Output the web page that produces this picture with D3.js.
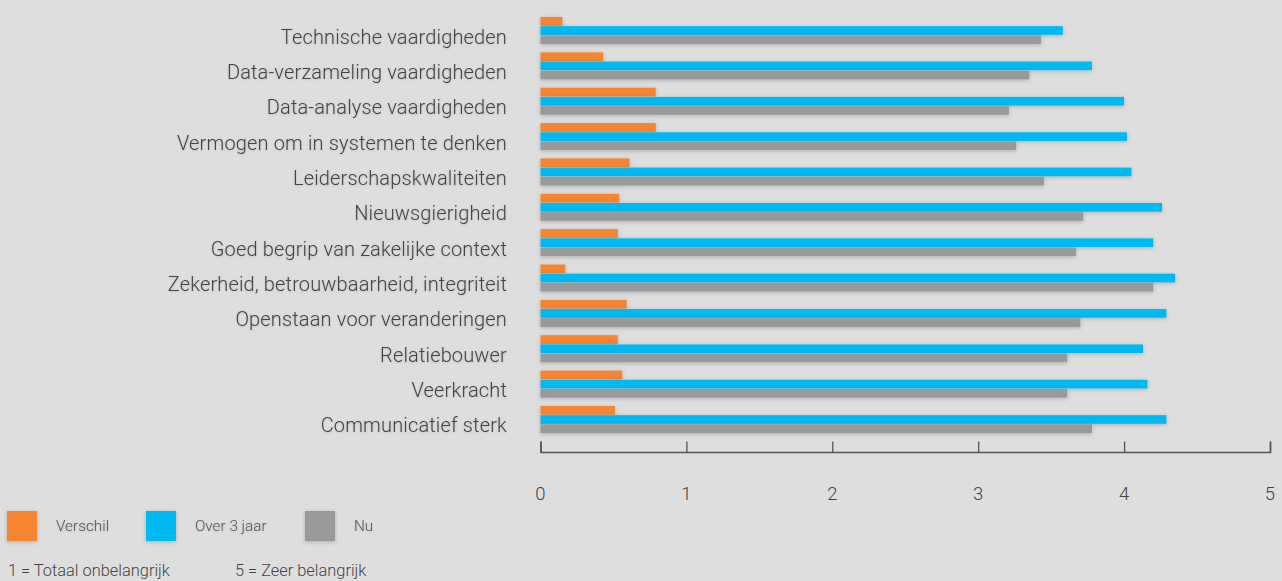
<!DOCTYPE html>
<html>
<head>
<meta charset="utf-8">
<script src="https://cdn.jsdelivr.net/npm/d3@7"></script>
<style>
  html, body { margin: 0; padding: 0; background: #dedede; }
  svg { display: block; }
  text { font-family: Roboto, "Open Sans", sans-serif; font-weight: 300; }
</style>
</head>
<body>
<svg id="chart" width="1282" height="581"></svg>
<script>
const categories = [
  "Technische vaardigheden",
  "Data-verzameling vaardigheden",
  "Data-analyse vaardigheden",
  "Vermogen om in systemen te denken",
  "Leiderschapskwaliteiten",
  "Nieuwsgierigheid",
  "Goed begrip van zakelijke context",
  "Zekerheid, betrouwbaarheid, integriteit",
  "Openstaan voor veranderingen",
  "Relatiebouwer",
  "Veerkracht",
  "Communicatief sterk"
];
const seriesNames = ["Verschil", "Over 3 jaar", "Nu"];
const verschil  = [0.15, 0.43, 0.79, 0.79, 0.61, 0.54, 0.53, 0.17, 0.59, 0.53, 0.56, 0.51];
const over3jaar = [3.58, 3.78, 4.00, 4.02, 4.05, 4.26, 4.20, 4.35, 4.29, 4.13, 4.16, 4.29];
const nu        = [3.43, 3.35, 3.21, 3.26, 3.45, 3.72, 3.67, 4.20, 3.70, 3.61, 3.61, 3.78];
const xTicks = [0, 1, 2, 3, 4, 5];
const colors = ["#f68533", "#00b9f1", "#98999b"];
const footnotes = ["1 = Totaal onbelangrijk", "5 = Zeer belangrijk"];

const seriesValues = [verschil, over3jaar, nu];

const svg = d3.select("#chart");

const defs = svg.append("defs");
const f = defs.append("filter").attr("id", "shadow")
  .attr("x", "-10%").attr("y", "-60%").attr("width", "120%").attr("height", "220%");
f.append("feDropShadow").attr("dx", 0).attr("dy", 1).attr("stdDeviation", 2)
  .attr("flood-color", "#000").attr("flood-opacity", 0.22);
const ft = defs.append("filter").attr("id", "tshadow")
  .attr("x", "-5%").attr("y", "-30%").attr("width", "110%").attr("height", "160%");
ft.append("feDropShadow").attr("dx", 0).attr("dy", 0.5).attr("stdDeviation", 1.2)
  .attr("flood-color", "#000").attr("flood-opacity", 0.18);

const x = d3.scaleLinear().domain([0, 5]).range([540.5, 1270]);

const step = 35.36, pad = 0.236;
const r0 = 17 - step * pad / 2;
const y = d3.scaleBand().domain(categories)
  .range([r0, r0 + categories.length * step])
  .paddingInner(pad).paddingOuter(pad / 2);
const ySub = d3.scaleBand().domain(seriesNames).range([0, y.bandwidth()]).padding(0.06).paddingOuter(0);

const data = categories.map((c, i) => ({
  cat: c,
  vals: seriesNames.map((s, j) => ({ s, v: seriesValues[j][i], c: colors[j] }))
}));

const groups = svg.append("g").selectAll("g").data(data).join("g")
  .attr("transform", d => `translate(0,${y(d.cat)})`);

groups.selectAll("rect").data(d => d.vals).join("rect")
  .attr("x", x(0))
  .attr("y", d => ySub(d.s))
  .attr("width", d => x(d.v) - x(0))
  .attr("height", ySub.bandwidth())
  .attr("fill", d => d.c)
  .attr("filter", "url(#shadow)");

svg.append("g").selectAll("text").data(categories).join("text")
  .attr("x", 507)
  .attr("y", d => y(d) + y.bandwidth() - 0.5)
  .attr("text-anchor", "end")
  .attr("font-size", 20)
  .attr("letter-spacing", 0.15)
  .attr("fill", "#444")
  .attr("filter", "url(#tshadow)")
  .text(d => d);

// axis
const axisY = 452;
const axis = d3.axisTop(x).tickValues(xTicks).tickSize(10.5).tickSizeOuter(10.5).tickFormat("");
const ag = svg.append("g").attr("transform", `translate(0,${axisY})`).call(axis);
ag.select(".domain").attr("stroke", "#555").attr("stroke-width", 1.6);
ag.selectAll(".tick line").attr("stroke", "#555").attr("stroke-width", 1.3);

svg.append("g").selectAll("text").data(xTicks).join("text")
  .attr("x", d => x(d))
  .attr("y", 499.5)
  .attr("text-anchor", "middle")
  .attr("font-size", 18.5)
  .attr("fill", "#444")
  .text(d => d);

// legend
const legX = [7, 146, 305];
const lg = svg.append("g").selectAll("g").data(seriesNames).join("g")
  .attr("transform", (d, i) => `translate(${legX[i]},511)`);
lg.append("rect").attr("width", 30).attr("height", 30)
  .attr("fill", (d, i) => colors[i]).attr("filter", "url(#shadow)");
lg.append("text").attr("x", 49).attr("y", 20).attr("font-size", 15.3)
  .attr("fill", "#555").attr("filter", "url(#tshadow)").text(d => d);

const fnX = [8, 235];
svg.append("g").selectAll("text").data(footnotes).join("text")
  .attr("x", (d, i) => fnX[i]).attr("y", 576)
  .attr("font-size", 16.4).attr("fill", "#444")
  .text(d => d);
</script>
</body>
</html>
